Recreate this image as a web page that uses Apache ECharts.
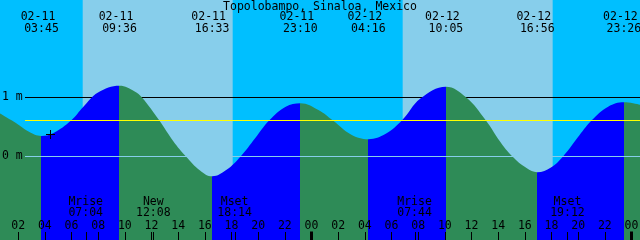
<!DOCTYPE html>
<html>
<head>
<meta charset="utf-8">
<script src="https://cdn.jsdelivr.net/npm/echarts@6/dist/echarts.min.js"></script>
<style>
  html, body { margin: 0; padding: 0; background: #00bfff; }
  #main { width: 640px; height: 240px; }
</style>
</head>
<body>
<div id="main"></div>
<script>
// all times are hours counted from 02-11 00:00 local time
var tideHours = [0.6, 1.86, 2.78, 3.75, 4.62, 5.99, 6.86, 7.99, 9.6, 10.74, 11.27, 12.58, 13.65, 14.57,
  15.64, 16.55, 17.63, 18.7, 19.77, 20.84, 22.07, 23.17, 24.52, 25.59, 26.96, 28.27, 29.57,
  30.79, 32.17, 34.08, 35.59, 37.07, 38.14, 39.05, 40.13, 40.93, 41.96, 42.88, 44.11, 45.02,
  46.25, 47.43, 48.7];
var tideMeters = [0.73, 0.56, 0.42, 0.345, 0.39, 0.61, 0.83, 1.08, 1.197, 1.10, 1.0, 0.61, 0.25, 0.0,
  -0.24, -0.34, -0.23, 0.0, 0.305, 0.61, 0.84, 0.90, 0.785, 0.61, 0.37, 0.29, 0.38,
  0.61, 0.98, 1.18, 1.0, 0.61, 0.25, 0.0, -0.20, -0.27, -0.19, 0.0, 0.36, 0.61,
  0.84, 0.915, 0.87];

// high / low tides (first one is a low, so the tide is falling before it)
var extremeHours = [3.75, 9.6, 16.55, 23.167, 28.267, 34.083, 40.933, 47.433];
var extremeDates = ['02-11', '02-11', '02-11', '02-11', '02-12', '02-12', '02-12', '02-12'];
var extremeTimes = ['03:45', '09:36', '16:33', '23:10', '04:16', '10:05', '16:56', '23:26'];

var sunriseHours = [6.84, 30.84];
var sunsetHours = [18.09, 42.09];

var moonHours = [7.067, 12.133, 18.233, 31.733, 43.2];
var moonNames = ['Mrise', 'New', 'Mset', 'Mrise', 'Mset'];
var moonTimes = ['07:04', '12:08', '18:14', '07:44', '19:12'];

var depthMeters = [1, 0];
var depthLabels = ['1 m', '0 m'];
var meanMeters = [0.61];
var midnightHours = [24, 48];
var nowHour = [4.4];
var nowMeters = [0.37];

var NIGHT = '#00bfff', DAY = '#87ceeb', RISE = '#0000ff', FALL = '#2e8b57';
var FONT = '11.5px "DejaVu Sans Mono"';

var pieces = [];
var edges = [-5].concat(extremeHours).concat([55]);
for (var i = 0; i < edges.length - 1; i++) {
  pieces.push({ gte: edges[i], lt: edges[i + 1], color: i % 2 === 0 ? FALL : RISE });
}

function txt(x, y, s, align) {
  return { type: 'text', style: { x: x, y: y, text: s, font: FONT, fill: '#000', align: align || 'center', verticalAlign: 'middle' } };
}

var chart = echarts.init(document.getElementById('main'));
chart.setOption({
  animation: false,
  backgroundColor: NIGHT,
  title: {
    text: 'Topolobampo, Sinaloa, Mexico', left: 'center', top: 1, padding: 0,
    textStyle: { fontFamily: 'DejaVu Sans Mono', fontSize: 11.5, fontWeight: 'normal', color: '#000', lineHeight: 12 }
  },
  grid: { left: -8.5, right: 0, top: 0, bottom: 0, outerBoundsMode: 'none', containLabel: false },
  xAxis: {
    type: 'value', min: 0, max: 48.64, interval: 2, z: 5,
    axisLine: { show: false, onZero: false },
    splitLine: { show: false },
    axisTick: { show: true, inside: true, length: 8, lineStyle: { color: '#000', width: 1 } },
    axisLabel: {
      inside: true, margin: 8, interval: 0, color: '#000',
      fontFamily: 'DejaVu Sans Mono', fontSize: 11.5,
      formatter: function (v) { var h = v % 24; return (h < 10 ? '0' : '') + h; }
    }
  },
  yAxis: { type: 'value', min: -1.42, max: 2.65, show: false },
  visualMap: { type: 'piecewise', show: false, dimension: 0, seriesIndex: 2, pieces: pieces },
  series: [
    {
      // daylight bands
      type: 'custom', z: 0, silent: true,
      data: sunriseHours.map(function (h, i) { return [h, sunsetHours[i]]; }),
      renderItem: function (params, api) {
        var a = api.coord([api.value(0), 0]), b = api.coord([api.value(1), 0]);
        return { type: 'rect', shape: { x: a[0], y: 0, width: b[0] - a[0], height: 240 }, style: { fill: DAY } };
      }
    },
    {
      // 1 m line sits behind the water
      type: 'custom', z: 1, silent: true,
      data: depthMeters.slice(0, 1).map(function (m) { return [0, m]; }),
      renderItem: function (params, api) {
        var p = api.coord([0, api.value(1)]);
        return { type: 'rect', shape: { x: 25, y: Math.floor(p[1]), width: 620, height: 1 }, style: { fill: '#000' } };
      }
    },
    {
      type: 'line', z: 2, silent: true, smooth: 0.4, symbol: 'none',
      data: tideHours.map(function (h, i) { return [h, tideMeters[i]]; }),
      lineStyle: { width: 0 },
      areaStyle: { origin: 'start', opacity: 1 }
    },
    {
      // mean level and datum line, in front of the water
      type: 'custom', z: 3, silent: true,
      data: [[0, meanMeters[0], 0], [0, depthMeters[1], 1]],
      renderItem: function (params, api) {
        var p = api.coord([0, api.value(1)]);
        var col = api.value(2) === 0 ? '#ffff00' : DAY;
        return { type: 'rect', shape: { x: 25, y: Math.floor(p[1]), width: 620, height: 1 }, style: { fill: col } };
      }
    },
    {
      // depth labels
      type: 'custom', z: 4, silent: true,
      data: depthMeters.map(function (m) { return [0, m]; }),
      renderItem: function (params, api) {
        var p = api.coord([0, api.value(1)]);
        return txt(2, p[1], depthLabels[params.dataIndex], 'left');
      }
    },
    {
      // high / low labels along the top
      type: 'custom', z: 4, silent: true,
      data: extremeHours.map(function (h) { return [h, 0]; }),
      renderItem: function (params, api) {
        var x = api.coord([api.value(0), 0])[0];
        return { type: 'group', children: [
          txt(x - 3.5, 17.5, extremeDates[params.dataIndex]),
          txt(x, 29.5, extremeTimes[params.dataIndex])
        ] };
      }
    },
    {
      // moon events along the bottom
      type: 'custom', z: 4, silent: true,
      data: moonHours.map(function (h) { return [h, 0]; }),
      renderItem: function (params, api) {
        var x = api.coord([api.value(0), 0])[0];
        return { type: 'group', children: [
          txt(x, 202, moonNames[params.dataIndex]),
          txt(x, 213.5, moonTimes[params.dataIndex]),
          { type: 'rect', shape: { x: Math.round(x), y: 232, width: 1, height: 8 }, style: { fill: '#000' } }
        ] };
      }
    },
    {
      // heavy midnight ticks
      type: 'custom', z: 4, silent: true,
      data: midnightHours.map(function (h) { return [h, 0]; }),
      renderItem: function (params, api) {
        var x = api.coord([api.value(0), 0])[0];
        return { type: 'rect', shape: { x: Math.round(x - 1.5), y: 231.5, width: 3, height: 8.5 }, style: { fill: '#000' } };
      }
    },
    {
      // present-time cross
      type: 'custom', z: 4, silent: true,
      data: nowHour.map(function (h, i) { return [h, nowMeters[i]]; }),
      renderItem: function (params, api) {
        var p = api.coord([api.value(0), api.value(1)]);
        var x = Math.round(p[0]), y = Math.round(p[1]);
        return { type: 'group', children: [
          { type: 'rect', shape: { x: x - 4, y: y, width: 9, height: 1 }, style: { fill: '#000' } },
          { type: 'rect', shape: { x: x, y: y - 4, width: 1, height: 9 }, style: { fill: '#000' } }
        ] };
      }
    }
  ]
});
</script>
</body>
</html>
